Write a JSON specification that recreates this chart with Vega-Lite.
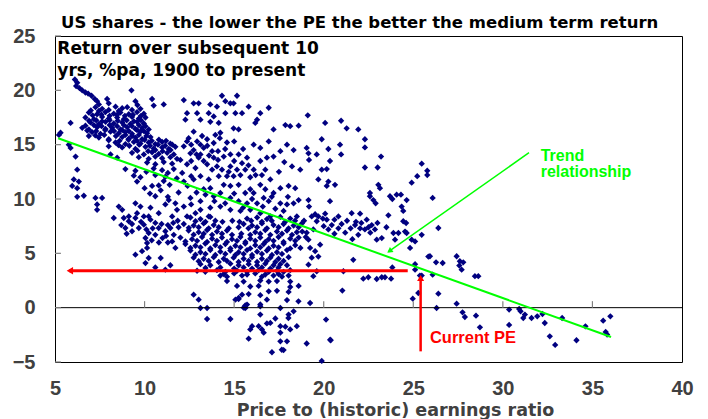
{
"$schema": "https://vega.github.io/schema/vega-lite/v6.json",
"width": 627, "height": 326,
"autosize": "none",
"padding": {"left": 55, "top": 36, "right": 26, "bottom": 57},
"background": "white",
"config": {"view": {"stroke": "black", "strokeWidth": 1}, "axis": {"grid": false}},
"title": {"text": "US shares - the lower the PE the better the medium term return", "anchor": "start", "frame": "group", "dx": 6, "dy": 27, "offset": 9, "baseline": "alphabetic", "font": "DejaVu Sans", "fontSize": 16.5, "fontWeight": "bold", "color": "black"},
"encoding": {
  "x": {"field": "p", "type": "quantitative", "scale": {"domain": [5, 40], "nice": false, "zero": false},
    "axis": {"values": [5,10,15,20,25,30,35,40], "ticks": false, "domain": false, "labelFont": "Liberation Sans", "labelFontSize": 20, "labelFontWeight": "bold", "labelColor": "#404040", "labelPadding": 16.5, "labelFlush": false, "labelOverlap": false, "labelBound": false,
      "title": "Price to (historic) earnings ratio", "titleFont": "DejaVu Sans", "titleFontSize": 17.5, "titleFontWeight": "bold", "titleColor": "#404040", "titleX": 340, "titleY": 53, "titleBaseline": "alphabetic", "titleAlign": "center"}},
  "y": {"field": "r", "type": "quantitative", "scale": {"domain": [-5, 25], "nice": false, "zero": false},
    "axis": {"values": [-5,0,5,10,15,20,25], "ticks": false, "domain": false, "labelFont": "Liberation Sans", "labelFontSize": 20, "labelFontWeight": "bold", "labelColor": "#404040", "labelPadding": 20, "labelFlush": false, "labelOverlap": false, "labelBound": false, "title": null}}
},
"layer": [
{"data": {"values": [
{"p":6.11,"r":21.0},{"p":6.24,"r":20.7},{"p":6.18,"r":20.4},{"p":6.37,"r":20.2},{"p":6.52,"r":20.0},{"p":6.7,"r":19.8},{"p":6.85,"r":19.7},{"p":7.04,"r":19.5},{"p":7.22,"r":19.2},{"p":7.35,"r":19.0},{"p":9.27,"r":20.0},{"p":7.91,"r":19.2},{"p":8.0,"r":18.8},{"p":9.49,"r":19.0},{"p":10.42,"r":19.2},{"p":10.51,"r":18.6},{"p":11.07,"r":18.7},{"p":7.45,"r":18.7},
{"p":7.26,"r":18.45},{"p":7.63,"r":18.3},{"p":8.38,"r":18.5},{"p":8.75,"r":18.35},{"p":9.03,"r":18.45},{"p":9.77,"r":18.3},
{"p":6.89,"r":17.95},{"p":7.35,"r":17.8},{"p":7.82,"r":18.0},{"p":8.28,"r":17.85},{"p":8.65,"r":17.95},{"p":9.12,"r":17.8},{"p":9.58,"r":18.0},{"p":9.96,"r":17.85},
{"p":6.7,"r":17.5},{"p":7.17,"r":17.35},{"p":7.63,"r":17.55},{"p":8.0,"r":17.4},{"p":8.47,"r":17.5},{"p":8.84,"r":17.35},{"p":9.3,"r":17.55},{"p":9.68,"r":17.4},{"p":10.05,"r":17.5},
{"p":6.98,"r":17.05},{"p":7.45,"r":16.9},{"p":7.82,"r":17.1},{"p":8.28,"r":16.95},{"p":8.75,"r":17.05},{"p":9.21,"r":16.9},{"p":9.58,"r":17.1},{"p":9.96,"r":16.95},
{"p":6.52,"r":16.55},{"p":6.89,"r":16.4},{"p":7.35,"r":16.6},{"p":7.82,"r":16.45},{"p":8.19,"r":16.55},{"p":8.65,"r":16.4},{"p":9.03,"r":16.6},{"p":9.49,"r":16.45},{"p":9.86,"r":16.55},{"p":10.23,"r":16.4},
{"p":7.07,"r":16.15},{"p":7.54,"r":16.0},{"p":8.1,"r":16.2},{"p":8.56,"r":16.05},{"p":8.93,"r":16.15},{"p":9.3,"r":16.0},{"p":9.77,"r":16.2},{"p":10.14,"r":16.05},
{"p":7.45,"r":15.65},{"p":8.0,"r":15.5},{"p":8.75,"r":15.7},{"p":9.12,"r":15.55},{"p":9.49,"r":15.65},{"p":9.86,"r":15.5},{"p":10.33,"r":15.7},
{"p":8.38,"r":15.2},{"p":8.93,"r":15.05},{"p":9.4,"r":15.25},{"p":9.77,"r":15.1},{"p":10.23,"r":15.2},{"p":10.6,"r":15.05},{"p":10.98,"r":15.25},{"p":11.44,"r":15.1},
{"p":8.75,"r":14.75},{"p":9.49,"r":14.6},{"p":10.05,"r":14.8},{"p":10.51,"r":14.65},{"p":10.98,"r":14.75},{"p":11.35,"r":14.6},{"p":11.72,"r":14.8},
{"p":9.3,"r":14.25},{"p":9.96,"r":14.1},{"p":10.42,"r":14.3},{"p":10.79,"r":14.15},{"p":11.26,"r":14.25},{"p":11.63,"r":14.1},
{"p":9.68,"r":13.85},{"p":10.23,"r":13.7},{"p":10.6,"r":13.9},{"p":10.98,"r":13.75},{"p":11.44,"r":13.85},{"p":11.81,"r":13.7},
{"p":10.14,"r":13.35},{"p":10.6,"r":13.2},{"p":11.07,"r":13.4},{"p":11.54,"r":13.25},
{"p":8.93,"r":12.75},{"p":9.49,"r":12.6},{"p":10.51,"r":12.8},{"p":10.98,"r":12.65},{"p":11.63,"r":12.75},
{"p":9.4,"r":12.15},{"p":9.77,"r":12.0},{"p":10.6,"r":12.2},{"p":11.16,"r":12.05},
{"p":9.58,"r":11.6},{"p":11.07,"r":11.65},{"p":10.42,"r":11.2},{"p":10.79,"r":11.25},
{"p":10.0,"r":11.0},{"p":10.3,"r":10.5},{"p":10.9,"r":10.8},{"p":11.4,"r":11.3},{"p":11.8,"r":11.9},{"p":12.1,"r":12.4},{"p":11.9,"r":10.6},{"p":11.3,"r":10.2},{"p":12.4,"r":11.2},{"p":12.6,"r":12.1},{"p":10.1,"r":12.5},{"p":11.3,"r":12.4},
{"p":5.87,"r":17.0},{"p":5.31,"r":16.1},{"p":5.22,"r":15.9},{"p":5.77,"r":15.0},{"p":5.87,"r":14.7},{"p":6.15,"r":13.9},{"p":6.24,"r":12.7},{"p":6.05,"r":11.8},{"p":5.96,"r":11.2},{"p":6.24,"r":11.0},{"p":6.24,"r":10.2},{"p":6.61,"r":10.3},{"p":6.33,"r":11.6},
{"p":8.0,"r":14.85},{"p":8.1,"r":14.1},{"p":6.89,"r":15.8},{"p":8.47,"r":13.8},
{"p":7.26,"r":10.1},{"p":7.63,"r":10.1},{"p":7.35,"r":9.5},{"p":7.35,"r":9.0},{"p":8.56,"r":9.3},{"p":8.75,"r":9.0},{"p":9.49,"r":9.6},{"p":9.77,"r":9.3},{"p":10.33,"r":9.2},{"p":11.16,"r":9.5},{"p":9.12,"r":8.4},{"p":10.6,"r":10.25},{"p":9.58,"r":8.7},{"p":9.96,"r":8.4},{"p":8.28,"r":8.25},{"p":10.23,"r":8.4},{"p":10.79,"r":8.7},{"p":11.54,"r":8.4},{"p":11.81,"r":9.0},{"p":11.35,"r":9.9},{"p":11.72,"r":9.6},
{"p":7.0,"r":18.15},{"p":7.45,"r":18.1},{"p":8.0,"r":18.2},{"p":8.56,"r":18.1},{"p":9.3,"r":18.2},{"p":9.6,"r":18.65},
{"p":7.1,"r":17.7},{"p":7.6,"r":17.75},{"p":8.05,"r":17.65},{"p":8.47,"r":17.75},{"p":8.9,"r":17.65},{"p":9.35,"r":17.75},{"p":9.8,"r":17.65},
{"p":6.9,"r":17.2},{"p":7.3,"r":17.25},{"p":7.63,"r":17.15},{"p":8.05,"r":17.25},{"p":8.5,"r":17.2},{"p":9.0,"r":17.25},{"p":9.4,"r":17.15},{"p":9.8,"r":17.25},
{"p":6.7,"r":16.75},{"p":7.17,"r":16.8},{"p":7.6,"r":16.7},{"p":8.05,"r":16.8},{"p":8.47,"r":16.7},{"p":8.84,"r":16.8},{"p":9.3,"r":16.7},{"p":9.68,"r":16.8},{"p":10.05,"r":16.7},
{"p":6.8,"r":16.3},{"p":7.3,"r":16.25},{"p":7.8,"r":16.35},{"p":8.3,"r":16.25},{"p":8.75,"r":16.35},{"p":9.12,"r":16.25},{"p":9.58,"r":16.35},{"p":9.96,"r":16.25},
{"p":7.25,"r":15.85},{"p":7.75,"r":15.9},{"p":8.4,"r":15.8},{"p":8.93,"r":15.9},{"p":9.3,"r":15.8},{"p":9.68,"r":15.9},{"p":10.1,"r":15.8},
{"p":8.0,"r":15.4},{"p":8.6,"r":15.35},{"p":9.1,"r":15.45},{"p":9.58,"r":15.35},{"p":10.0,"r":15.45},{"p":10.4,"r":15.35},{"p":10.8,"r":15.45},{"p":11.2,"r":15.35},
{"p":8.55,"r":14.95},{"p":9.15,"r":14.9},{"p":9.7,"r":15.0},{"p":10.3,"r":14.9},{"p":10.75,"r":15.0},{"p":11.15,"r":14.9},{"p":11.55,"r":15.0},
{"p":9.6,"r":14.45},{"p":10.2,"r":14.4},{"p":10.6,"r":14.5},{"p":11.0,"r":14.4},{"p":11.45,"r":14.5},
{"p":14.32,"r":19.5},{"p":15.16,"r":19.5},{"p":12.19,"r":19.1},{"p":12.74,"r":18.8},{"p":13.02,"r":18.8},{"p":13.67,"r":18.7},{"p":14.04,"r":18.5},{"p":14.51,"r":19.0},{"p":14.79,"r":18.8},{"p":14.97,"r":18.8},{"p":15.81,"r":18.5},{"p":16.93,"r":18.4},{"p":14.51,"r":17.9},{"p":15.07,"r":17.9},{"p":15.44,"r":17.9},{"p":16.46,"r":17.9},{"p":16.28,"r":17.3},{"p":16.18,"r":17.0},{"p":17.86,"r":16.8},{"p":18.13,"r":16.7},{"p":18.6,"r":16.75},{"p":17.2,"r":16.4},{"p":13.86,"r":17.6},{"p":13.58,"r":17.9},{"p":12.93,"r":17.9},{"p":12.37,"r":17.9},{"p":12.28,"r":17.3},{"p":13.12,"r":17.3},{"p":13.67,"r":17.1},{"p":14.14,"r":17.0},{"p":14.97,"r":16.5},{"p":15.25,"r":16.4},{"p":14.23,"r":16.1},{"p":13.95,"r":15.9},{"p":12.74,"r":16.2},{"p":13.21,"r":15.8},{"p":12.46,"r":15.6},{"p":12.93,"r":15.3},{"p":13.49,"r":15.5},{"p":13.86,"r":15.15},{"p":12.19,"r":14.85},{"p":12.74,"r":14.5},{"p":13.3,"r":14.7},{"p":13.77,"r":14.4},{"p":16.09,"r":15.0},{"p":16.93,"r":15.3},{"p":16.46,"r":14.7},{"p":17.58,"r":14.4},{"p":17.95,"r":15.0},{"p":18.32,"r":14.5},{"p":14.79,"r":14.1},{"p":15.25,"r":14.1},{"p":14.42,"r":13.9},{"p":15.72,"r":13.8},{"p":16.83,"r":13.8},{"p":17.2,"r":13.9},{"p":16.46,"r":13.5},{"p":15.44,"r":13.3},{"p":12.0,"r":13.6},{"p":13.02,"r":13.8},{"p":13.49,"r":13.2},{"p":14.04,"r":13.0},{"p":14.32,"r":12.7},{"p":13.77,"r":12.7},{"p":16.09,"r":12.7},{"p":16.74,"r":12.7},{"p":16.55,"r":12.2},{"p":14.97,"r":12.1},{"p":14.6,"r":12.1},{"p":14.14,"r":12.1},{"p":15.35,"r":12.2},{"p":12.74,"r":11.8},{"p":12.19,"r":11.6},{"p":17.02,"r":11.8},{"p":18.04,"r":11.2},{"p":18.41,"r":11.0},{"p":17.58,"r":11.0},{"p":15.9,"r":10.9},{"p":15.62,"r":10.55},{"p":16.09,"r":10.55},{"p":16.65,"r":10.1},{"p":16.93,"r":9.8},{"p":17.58,"r":9.6},{"p":17.95,"r":9.5},{"p":18.32,"r":9.6},{"p":13.3,"r":10.9},{"p":13.67,"r":11.0},{"p":13.86,"r":10.25},{"p":13.12,"r":9.8},{"p":12.56,"r":10.1},{"p":14.23,"r":9.3},{"p":14.79,"r":9.0},{"p":15.35,"r":8.9},{"p":15.9,"r":9.0},{"p":16.46,"r":8.7},{"p":17.02,"r":8.4},{"p":17.76,"r":8.9},{"p":18.5,"r":8.4},{"p":12.84,"r":8.7},{"p":12.37,"r":8.4},{"p":13.58,"r":8.4},{"p":12.19,"r":9.3},{"p":12.37,"r":15.3},{"p":13.12,"r":15.0},{"p":12.56,"r":14.2},{"p":13.12,"r":14.1},{"p":13.86,"r":13.8},{"p":12.37,"r":13.2},{"p":12.84,"r":12.85},{"p":18.23,"r":13.0},{"p":18.69,"r":12.7},{"p":14.79,"r":13.0},{"p":15.16,"r":12.7},{"p":15.62,"r":12.7},{"p":13.12,"r":12.1},{"p":13.58,"r":11.8},{"p":14.42,"r":11.3},{"p":14.79,"r":11.2},{"p":15.25,"r":11.3},{"p":16.46,"r":11.3},{"p":16.74,"r":10.9},{"p":17.2,"r":10.55},{"p":14.23,"r":10.55},{"p":14.79,"r":10.1},{"p":15.25,"r":9.8},{"p":15.72,"r":9.6},{"p":16.28,"r":9.6},{"p":13.67,"r":9.2},{"p":13.12,"r":9.0},
{"p":12.6,"r":13.5},{"p":13.3,"r":13.5},{"p":13.6,"r":14.0},{"p":14.1,"r":14.4},{"p":14.5,"r":14.6},{"p":14.1,"r":13.6},{"p":12.9,"r":14.1},{"p":13.5,"r":14.9},{"p":12.6,"r":15.0},{"p":14.2,"r":15.6},{"p":14.6,"r":15.2},{"p":15.0,"r":15.3},{"p":15.5,"r":14.6},{"p":15.0,"r":13.5},{"p":14.7,"r":12.5},{"p":15.8,"r":13.1},{"p":16.2,"r":12.2},{"p":15.9,"r":12.0},{"p":17.5,"r":12.5},{"p":17.8,"r":13.4},
{"p":15.5,"r":9.2},{"p":16.0,"r":10.0},{"p":16.6,"r":9.3},{"p":17.3,"r":9.1},{"p":18.0,"r":10.2},{"p":18.6,"r":9.9},{"p":17.1,"r":10.2},{"p":15.0,"r":10.5},{"p":14.5,"r":9.6},{"p":13.9,"r":9.8},{"p":13.4,"r":10.4},{"p":12.9,"r":10.6},{"p":12.6,"r":9.5},
{"p":19.11,"r":17.7},{"p":20.08,"r":17.0},{"p":20.97,"r":17.2},{"p":21.28,"r":16.5},{"p":21.93,"r":16.4},{"p":22.3,"r":15.5},{"p":22.3,"r":14.75},{"p":19.89,"r":15.5},{"p":20.91,"r":15.0},{"p":20.26,"r":14.6},{"p":19.05,"r":14.7},{"p":19.15,"r":14.2},{"p":19.61,"r":14.1},{"p":19.18,"r":13.6},{"p":20.35,"r":13.5},{"p":20.97,"r":14.1},{"p":23.2,"r":13.9},{"p":19.89,"r":12.7},{"p":20.17,"r":12.75},{"p":22.3,"r":12.9},{"p":23.01,"r":12.9},{"p":19.7,"r":11.8},{"p":20.26,"r":11.6},{"p":20.17,"r":11.2},{"p":20.63,"r":11.3},{"p":23.05,"r":11.3},{"p":23.14,"r":11.0},{"p":22.58,"r":10.55},{"p":22.58,"r":10.25},{"p":22.77,"r":9.9},{"p":22.9,"r":9.6},{"p":23.7,"r":10.25},{"p":23.83,"r":10.0},{"p":24.07,"r":10.4},{"p":24.31,"r":10.4},{"p":24.63,"r":9.9},{"p":24.91,"r":11.5},{"p":25.22,"r":12.1},{"p":25.47,"r":13.25},{"p":25.78,"r":12.6},{"p":25.78,"r":12.2},{"p":24.35,"r":9.3},{"p":24.44,"r":8.9},{"p":19.15,"r":9.9},{"p":19.18,"r":9.3},{"p":20.35,"r":9.8},{"p":19.52,"r":8.6},{"p":19.7,"r":8.4},{"p":20.08,"r":8.65},{"p":20.82,"r":8.4},{"p":21.56,"r":8.7},{"p":22.03,"r":8.65},{"p":23.61,"r":8.5},{"p":26.08,"r":10.1},
{"p":19.95,"r":8.2},{"p":20.17,"r":8.1},{"p":20.45,"r":7.6},{"p":20.82,"r":7.3},{"p":20.26,"r":7.2},{"p":21.75,"r":7.6},{"p":22.03,"r":7.3},{"p":22.3,"r":7.2},{"p":22.68,"r":7.6},{"p":22.86,"r":7.2},{"p":21.93,"r":6.7},{"p":22.96,"r":6.26},{"p":23.24,"r":6.4},{"p":23.98,"r":6.26},{"p":24.44,"r":7.95},{"p":24.54,"r":7.0},{"p":24.91,"r":6.26},{"p":25.1,"r":6.1},{"p":25.47,"r":6.7},{"p":24.82,"r":5.5},{"p":25.84,"r":4.7},{"p":19.05,"r":6.9},{"p":19.15,"r":6.26},{"p":19.24,"r":5.5},{"p":19.52,"r":5.2},{"p":19.7,"r":4.7},{"p":19.15,"r":3.96},{"p":19.61,"r":3.35},{"p":19.42,"r":2.9},{"p":21.65,"r":4.4},{"p":21.1,"r":3.35},{"p":22.21,"r":2.67},{"p":22.49,"r":2.8},{"p":22.96,"r":2.64},{"p":23.24,"r":2.8},{"p":23.42,"r":2.8},{"p":23.76,"r":2.67},{"p":23.83,"r":3.7},{"p":25.1,"r":4.0},{"p":25.1,"r":3.5},{"p":25.37,"r":2.95},{"p":25.47,"r":2.95},{"p":21.04,"r":1.57},{"p":25.28,"r":1.35},{"p":24.97,"r":0.83},{"p":19.24,"r":0.43},{"p":20.13,"r":-1.1},{"p":20.39,"r":-3.0},{"p":19.05,"r":-3.3},{"p":19.89,"r":-4.9},{"p":19.33,"r":8.4},{"p":19.61,"r":7.95},{"p":19.42,"r":7.2},{"p":19.8,"r":5.8},{"p":19.33,"r":4.6},{"p":21.8,"r":7.9},{"p":22.1,"r":7.8},{"p":22.5,"r":7.4},{"p":21.5,"r":7.3},{"p":22.6,"r":6.9},{"p":18.9,"r":8.0},{"p":18.8,"r":7.0},{"p":19.0,"r":6.5},{"p":18.7,"r":5.5},
{"p":20.6,"r":8.1},{"p":21.0,"r":7.7},{"p":21.3,"r":8.0},{"p":20.0,"r":7.5},{"p":21.2,"r":6.9},{"p":20.6,"r":6.8},{"p":22.4,"r":8.1},{"p":23.0,"r":7.8},{"p":23.5,"r":7.4},{"p":21.6,"r":6.3},
{"p":24.6,"r":7.79},{"p":24.63,"r":6.87},{"p":24.17,"r":6.87},{"p":23.89,"r":6.87},
{"p":26.4,"r":7.33},{"p":25.93,"r":4.73},{"p":26.27,"r":4.17},{"p":26.64,"r":4.11},{"p":26.08,"r":3.04},{"p":27.42,"r":4.73},{"p":27.6,"r":4.27},{"p":27.79,"r":4.17},{"p":27.57,"r":3.87},{"p":27.7,"r":3.5},{"p":28.44,"r":2.9},{"p":28.63,"r":2.9},{"p":26.4,"r":1.29},{"p":26.3,"r":-0.03},{"p":27.42,"r":0.37},{"p":27.75,"r":-0.43},{"p":27.88,"r":-0.86},{"p":28.5,"r":-0.74},{"p":28.72,"r":-1.81},{"p":30.35,"r":-0.18},{"p":30.91,"r":-0.12},{"p":30.99,"r":-0.34},{"p":31.23,"r":-0.64},{"p":31.14,"r":-0.95},{"p":31.6,"r":-0.95},{"p":31.92,"r":-0.8},{"p":32.21,"r":-0.58},{"p":32.34,"r":-1.41},{"p":30.35,"r":-1.59},{"p":32.62,"r":-2.64},{"p":32.92,"r":-3.43},{"p":33.31,"r":-0.95},{"p":34.11,"r":-3.0},{"p":34.61,"r":-1.72},{"p":35.6,"r":-1.2},{"p":36.0,"r":-0.8},{"p":35.74,"r":-2.24},{"p":35.82,"r":-2.48},
{"p":12.56,"r":8.3},{"p":13.12,"r":8.15},{"p":13.67,"r":8.35},{"p":15.72,"r":8.2},{"p":16.28,"r":8.3},{"p":16.83,"r":8.15},{"p":17.58,"r":8.35},{"p":18.13,"r":8.2},
{"p":12.19,"r":7.7},{"p":12.74,"r":7.55},{"p":13.3,"r":7.75},{"p":13.86,"r":7.6},{"p":15.53,"r":7.7},{"p":16.0,"r":7.55},{"p":16.55,"r":7.75},{"p":17.2,"r":7.6},{"p":17.76,"r":7.7},{"p":18.32,"r":7.55},{"p":18.78,"r":7.75},
{"p":12.46,"r":7.1},{"p":13.02,"r":6.95},{"p":13.49,"r":7.15},{"p":14.04,"r":7.0},{"p":14.6,"r":7.1},{"p":16.18,"r":6.95},{"p":16.74,"r":7.15},{"p":17.39,"r":7.0},{"p":17.95,"r":7.1},{"p":18.5,"r":6.95},
{"p":12.0,"r":6.45},{"p":12.65,"r":6.3},{"p":13.21,"r":6.5},{"p":13.77,"r":6.35},{"p":14.32,"r":6.45},{"p":14.88,"r":6.3},{"p":15.35,"r":6.5},{"p":15.9,"r":6.35},{"p":16.46,"r":6.45},{"p":16.93,"r":6.3},{"p":17.48,"r":6.5},{"p":18.13,"r":6.35},{"p":18.6,"r":6.45},
{"p":12.28,"r":5.85},{"p":12.84,"r":5.7},{"p":13.39,"r":5.9},{"p":13.95,"r":5.75},{"p":14.51,"r":5.85},{"p":15.07,"r":5.7},{"p":15.62,"r":5.9},{"p":16.18,"r":5.75},{"p":16.65,"r":5.85},{"p":17.2,"r":5.7},{"p":17.76,"r":5.9},{"p":18.41,"r":5.75},
{"p":12.56,"r":5.25},{"p":13.12,"r":5.1},{"p":13.67,"r":5.3},{"p":14.23,"r":5.15},{"p":14.79,"r":5.25},{"p":15.25,"r":5.1},{"p":15.72,"r":5.3},{"p":16.28,"r":5.15},{"p":16.83,"r":5.25},{"p":17.39,"r":5.1},{"p":17.95,"r":5.3},
{"p":12.74,"r":4.6},{"p":13.3,"r":4.5},{"p":13.86,"r":4.65},{"p":14.42,"r":4.5},{"p":14.97,"r":4.6},{"p":15.53,"r":4.5},{"p":16.0,"r":4.65},{"p":16.55,"r":4.5},{"p":17.02,"r":4.6},{"p":17.48,"r":4.5},{"p":18.04,"r":4.65},
{"p":13.12,"r":4.0},{"p":13.67,"r":3.9},{"p":14.79,"r":4.05},{"p":15.25,"r":3.9},{"p":15.81,"r":4.0},{"p":16.28,"r":3.9},{"p":16.74,"r":4.05},{"p":17.2,"r":3.9},{"p":17.58,"r":4.0},{"p":17.95,"r":3.9},
{"p":12.93,"r":3.4},{"p":13.39,"r":3.3},{"p":14.04,"r":3.45},{"p":14.51,"r":3.3},{"p":15.16,"r":3.4},{"p":15.72,"r":3.3},{"p":16.37,"r":3.45},{"p":16.93,"r":3.3},{"p":17.39,"r":3.4},{"p":17.76,"r":3.3},{"p":18.13,"r":3.45},
{"p":14.23,"r":2.95},{"p":14.6,"r":2.85},{"p":15.44,"r":2.95},{"p":16.55,"r":2.85},{"p":17.2,"r":2.95},{"p":17.67,"r":2.85},{"p":18.04,"r":2.95},
{"p":14.6,"r":2.45},{"p":15.53,"r":2.4},{"p":16.46,"r":2.5},{"p":16.93,"r":2.4},{"p":17.39,"r":2.45},{"p":18.13,"r":2.4},
{"p":15.16,"r":2.0},{"p":15.9,"r":1.95},{"p":16.37,"r":2.0},{"p":18.13,"r":1.9},{"p":18.6,"r":2.0},
{"p":12.84,"r":7.95},{"p":13.4,"r":7.9},{"p":13.95,"r":8.0},{"p":14.35,"r":7.9},{"p":14.9,"r":8.0},{"p":15.3,"r":7.9},{"p":15.95,"r":8.0},{"p":16.55,"r":7.9},{"p":17.1,"r":8.0},{"p":17.85,"r":7.9},{"p":18.4,"r":8.0},
{"p":12.47,"r":7.35},{"p":13.02,"r":7.4},{"p":13.58,"r":7.3},{"p":14.14,"r":7.4},{"p":14.7,"r":7.3},{"p":15.25,"r":7.4},{"p":15.8,"r":7.3},{"p":16.28,"r":7.4},{"p":16.83,"r":7.3},{"p":17.48,"r":7.4},{"p":18.04,"r":7.3},{"p":18.6,"r":7.4},
{"p":12.74,"r":6.72},{"p":13.3,"r":6.8},{"p":13.77,"r":6.7},{"p":14.32,"r":6.8},{"p":14.88,"r":6.7},{"p":15.4,"r":6.8},{"p":15.9,"r":6.7},{"p":16.46,"r":6.8},{"p":17.02,"r":6.7},{"p":17.67,"r":6.8},{"p":18.23,"r":6.7},
{"p":12.28,"r":6.1},{"p":12.93,"r":6.15},{"p":13.49,"r":6.05},{"p":14.04,"r":6.15},{"p":14.6,"r":6.05},{"p":15.16,"r":6.15},{"p":15.63,"r":6.05},{"p":16.18,"r":6.15},{"p":16.74,"r":6.05},{"p":17.2,"r":6.15},{"p":17.76,"r":6.05},{"p":18.41,"r":6.15},
{"p":12.56,"r":5.5},{"p":13.12,"r":5.55},{"p":13.67,"r":5.45},{"p":14.23,"r":5.55},{"p":14.79,"r":5.45},{"p":15.35,"r":5.55},{"p":15.9,"r":5.45},{"p":16.46,"r":5.55},{"p":16.93,"r":5.45},{"p":17.48,"r":5.55},{"p":18.13,"r":5.45},
{"p":12.84,"r":4.88},{"p":13.4,"r":4.95},{"p":13.95,"r":4.85},{"p":14.51,"r":4.95},{"p":15.07,"r":4.85},{"p":15.53,"r":4.95},{"p":16.0,"r":4.85},{"p":16.55,"r":4.95},{"p":17.11,"r":4.85},{"p":17.67,"r":4.95},
{"p":13.02,"r":4.27},{"p":13.58,"r":4.3},{"p":14.14,"r":4.2},{"p":14.6,"r":4.3},{"p":15.25,"r":4.2},{"p":15.81,"r":4.3},{"p":16.28,"r":4.2},{"p":16.83,"r":4.3},{"p":17.3,"r":4.2},{"p":17.76,"r":4.3},
{"p":13.4,"r":3.65},{"p":14.23,"r":3.7},{"p":15.0,"r":3.6},{"p":15.53,"r":3.7},{"p":16.0,"r":3.6},{"p":16.55,"r":3.7},{"p":17.02,"r":3.6},{"p":17.48,"r":3.7},
{"p":14.42,"r":3.1},{"p":15.0,"r":3.15},{"p":15.72,"r":3.05},{"p":16.18,"r":3.15},{"p":16.74,"r":3.05},{"p":17.48,"r":3.1},
{"p":16.93,"r":1.5},{"p":17.39,"r":1.55},{"p":18.04,"r":1.45},{"p":12.74,"r":1.2},{"p":15.44,"r":1.2},{"p":15.81,"r":1.25},{"p":16.46,"r":1.15},{"p":13.02,"r":0.74},{"p":15.07,"r":0.74},{"p":15.25,"r":0.8},{"p":17.95,"r":0.7},{"p":15.72,"r":0.28},{"p":16.46,"r":0.3},{"p":15.62,"r":0.2},
{"p":13.12,"r":-0.03},{"p":13.49,"r":-0.03},{"p":15.53,"r":0.0},{"p":15.62,"r":-0.05},{"p":17.58,"r":-0.03},{"p":18.32,"r":-0.34},{"p":16.46,"r":-0.64},{"p":18.04,"r":-0.64},{"p":13.49,"r":-1.04},{"p":14.79,"r":-1.04},{"p":17.3,"r":-1.0},{"p":17.02,"r":-1.4},{"p":16.83,"r":-1.45},{"p":16.0,"r":-1.7},{"p":16.37,"r":-1.7},{"p":17.58,"r":-1.7},{"p":17.86,"r":-1.75},{"p":18.5,"r":-1.7},{"p":15.9,"r":-2.0},{"p":16.55,"r":-2.0},{"p":18.13,"r":-2.0},{"p":16.65,"r":-2.3},{"p":17.58,"r":-2.3},{"p":15.81,"r":-2.85},{"p":17.58,"r":-3.1},{"p":17.95,"r":-3.1},{"p":17.76,"r":-3.9},{"p":17.11,"r":-4.1},
{"p":20.36,"r":-2.95},{"p":18.59,"r":0.58},{"p":18.03,"r":-0.95},{"p":16.83,"r":0.74},{"p":16.46,"r":0.12},{"p":15.25,"r":0.89},{"p":17.66,"r":-3.87},
{"p":8.84,"r":8.25},{"p":9.12,"r":7.95},{"p":9.49,"r":8.25},{"p":8.93,"r":7.33},{"p":9.3,"r":7.03},{"p":9.68,"r":7.33},{"p":9.96,"r":7.64},{"p":10.33,"r":8.1},{"p":10.6,"r":7.8},{"p":10.79,"r":7.33},{"p":11.16,"r":7.03},{"p":11.44,"r":7.33},{"p":11.63,"r":6.7},{"p":11.0,"r":6.4},{"p":10.6,"r":6.7},{"p":10.23,"r":6.87},{"p":10.05,"r":6.41},{"p":11.72,"r":5.5},{"p":11.54,"r":6.1},{"p":9.49,"r":4.88},{"p":9.86,"r":5.2},{"p":10.14,"r":5.5},{"p":10.23,"r":4.57},{"p":10.05,"r":4.1},{"p":10.9,"r":4.57},{"p":10.6,"r":3.7},{"p":11.16,"r":3.5},{"p":11.44,"r":3.9},{"p":10.14,"r":5.95},{"p":8.7,"r":7.6},{"p":9.0,"r":6.8},{"p":11.3,"r":6.0},{"p":11.9,"r":7.4},{"p":11.85,"r":8.0},
{"p":9.3,"r":7.7},{"p":9.8,"r":7.9},{"p":10.1,"r":7.2},{"p":10.45,"r":7.3},{"p":10.95,"r":7.7},{"p":11.3,"r":7.6},{"p":11.2,"r":6.6},{"p":10.8,"r":6.0},{"p":10.4,"r":6.2},{"p":11.6,"r":7.8}
]},
 "mark": {"type": "point", "shape": "diamond", "filled": true, "color": "#000080", "size": 40, "opacity": 1, "strokeWidth": 0}},
{"data": {"values": [{"p": 5, "r": 0, "p2": 40}]},
 "mark": {"type": "rule", "color": "black", "strokeWidth": 1},
 "encoding": {"x2": {"field": "p2"}}},
{"data": {"values": [{"p":10,"r":0,"r2":0.6},{"p":15,"r":0,"r2":0.6},{"p":20,"r":0,"r2":0.6},{"p":25,"r":0,"r2":0.6},{"p":30,"r":0,"r2":0.6},{"p":35,"r":0,"r2":0.6}]},
 "mark": {"type": "rule", "color": "#808080", "strokeWidth": 1.2},
 "encoding": {"y2": {"field": "r2"}}},
{"data": {"values": [{"p":5,"p2":5.33,"r":-5},{"p":5,"p2":5.33,"r":0},{"p":5,"p2":5.33,"r":5},{"p":5,"p2":5.33,"r":10},{"p":5,"p2":5.33,"r":15},{"p":5,"p2":5.33,"r":20},{"p":5,"p2":5.33,"r":25}]},
 "mark": {"type": "rule", "color": "#808080", "strokeWidth": 1.2},
 "encoding": {"x2": {"field": "p2"}}},
{"data": {"values": [{"p": 5.18, "r": 15.59, "p2": 36.04, "r2": -2.7}]},
 "mark": {"type": "rule", "color": "#00ff00", "strokeWidth": 2},
 "encoding": {"x2": {"field": "p2"}, "y2": {"field": "r2"}}},
{"data": {"values": [{"p": 31.46, "r": 14.26, "p2": 23.62, "r2": 5.15}]},
 "mark": {"type": "rule", "color": "#00ff00", "strokeWidth": 1.5},
 "encoding": {"x2": {"field": "p2"}, "y2": {"field": "r2"}}},
{"data": {"values": [{"p": 23.67, "r": 5.21}]},
 "mark": {"type": "point", "shape": "triangle-up", "angle": 234.8, "filled": true, "color": "#00ff00", "size": 40, "opacity": 1, "strokeWidth": 0}},
{"data": {"values": [{"p": 24.69, "r": 3.4, "p2": 5.8}]},
 "mark": {"type": "rule", "color": "#ff0000", "strokeWidth": 3},
 "encoding": {"x2": {"field": "p2"}}},
{"data": {"values": [{"p": 5.83, "r": 3.4}]},
 "mark": {"type": "point", "shape": "triangle-left", "filled": true, "color": "#ff0000", "size": 55, "opacity": 1, "strokeWidth": 0}},
{"data": {"values": [{"p": 25.41, "r": -4.02, "r2": 2.75}]},
 "mark": {"type": "rule", "color": "#ff0000", "strokeWidth": 2.5},
 "encoding": {"y2": {"field": "r2"}}},
{"data": {"values": [{"p": 25.41, "r": 2.73}]},
 "mark": {"type": "point", "shape": "triangle-up", "filled": true, "color": "#ff0000", "size": 50, "opacity": 1, "strokeWidth": 0}},
{"data": {"values": [{"p": 5.13, "r": 23.35, "t": "Return over subsequent 10"}, {"p": 5.13, "r": 21.32, "t": "yrs, %pa, 1900 to present"}]},
 "mark": {"type": "text", "align": "left", "baseline": "alphabetic", "font": "DejaVu Sans", "fontSize": 17, "fontWeight": "bold", "color": "black"},
 "encoding": {"text": {"field": "t"}}},
{"data": {"values": [{"p": 32.11, "r": 13.5, "t": "Trend"}, {"p": 32.11, "r": 12.05, "t": "relationship"}]},
 "mark": {"type": "text", "align": "left", "baseline": "alphabetic", "font": "Liberation Sans", "fontSize": 16, "fontWeight": "bold", "color": "#00ff00"},
 "encoding": {"text": {"field": "t"}}},
{"data": {"values": [{"p": 25.93, "r": -3.22, "t": "Current PE"}]},
 "mark": {"type": "text", "align": "left", "baseline": "alphabetic", "font": "Liberation Sans", "fontSize": 16.5, "fontWeight": "bold", "color": "#ff0000"},
 "encoding": {"text": {"field": "t"}}}
]
}
